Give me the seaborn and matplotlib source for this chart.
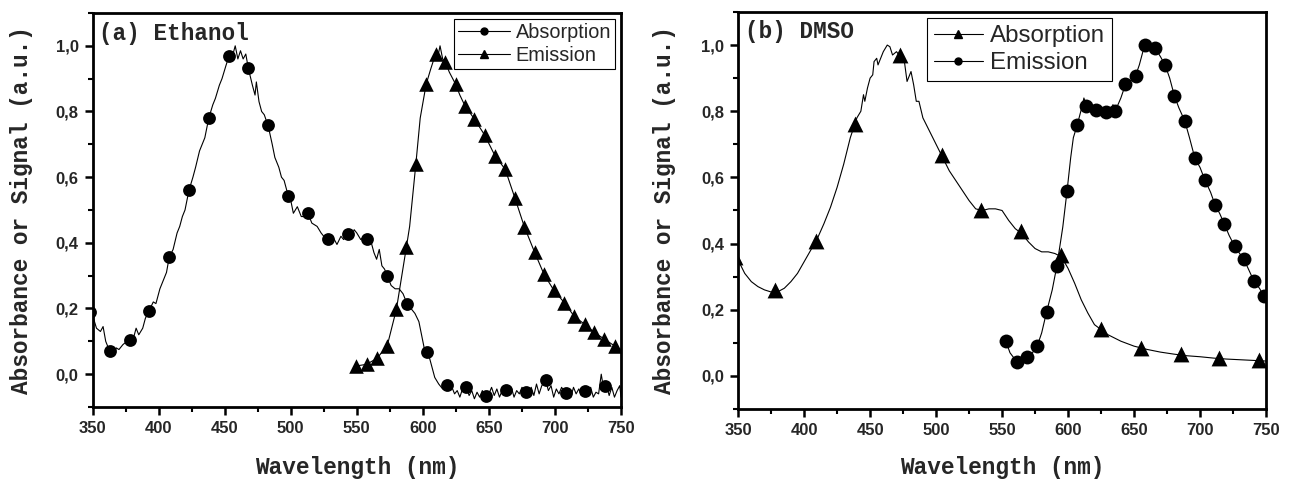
import matplotlib
matplotlib.use('Agg')
import matplotlib.pyplot as plt
from matplotlib.lines import Line2D
from matplotlib.ticker import MultipleLocator, FuncFormatter
import seaborn as sns

# ---- (a) Ethanol -------------------------------------------------------
abs_a_wl = [350, 353, 356, 358, 360, 363, 366, 368, 370, 373, 376, 378, 381, 383, 385, 388, 390,
            393, 396, 398, 401, 404, 406, 408, 411, 414, 416, 418, 420, 423, 426, 428, 431, 433,
            435, 438, 441, 443, 446, 448, 451, 453, 456, 458, 460, 462, 464, 466, 468, 471, 473,
            474, 476, 478, 480, 483, 486, 488, 491, 493, 495, 498, 500, 502, 505, 508, 510, 513,
            516, 518, 520, 523, 525, 528, 530, 533, 535, 538, 540, 543, 546, 548, 550, 553, 556,
            558, 561, 563, 565, 567, 569, 571, 573, 576, 579, 582, 585, 588, 591, 594, 597, 599,
            601, 603, 605, 607, 609, 612, 615, 618, 620, 622, 624, 626, 628, 630, 633, 635, 637,
            639, 641, 643, 645, 648, 650, 652, 654, 656, 658, 660, 663, 665, 667, 669, 671, 673,
            675, 678, 680, 682, 684, 686, 688, 690, 693, 695, 697, 699, 701, 703, 705, 708, 710,
            712, 714, 716, 718, 720, 723, 725, 727, 729, 731, 733, 735, 737, 739, 741, 743, 745,
            747, 749, 750]
abs_a = [0.18, 0.14, 0.13, 0.145, 0.10, 0.07, 0.06, 0.08, 0.075, 0.09, 0.10, 0.105, 0.11, 0.14,
         0.12, 0.14, 0.17, 0.195, 0.22, 0.215, 0.26, 0.29, 0.31, 0.355, 0.38, 0.43, 0.45, 0.48,
         0.50, 0.56, 0.60, 0.63, 0.68, 0.70, 0.72, 0.78, 0.82, 0.84, 0.88, 0.90, 0.94, 0.965,
         0.97, 1.0, 0.96, 0.985, 0.96, 0.975, 0.93, 0.88, 0.85, 0.89, 0.83, 0.80, 0.79, 0.755,
         0.70, 0.66, 0.63, 0.60, 0.59, 0.545, 0.53, 0.49, 0.51, 0.48, 0.48, 0.49, 0.46, 0.455,
         0.45, 0.43, 0.42, 0.41, 0.40, 0.41, 0.395, 0.42, 0.41, 0.425, 0.415, 0.44, 0.43, 0.41,
         0.42, 0.41, 0.40, 0.37, 0.35, 0.38, 0.33, 0.32, 0.30, 0.27, 0.26, 0.26, 0.245, 0.215,
         0.20, 0.185, 0.16, 0.12, 0.08, 0.07, 0.05, 0.02, -0.01, -0.03, -0.045, -0.035, -0.05,
         -0.04, -0.06, -0.05, -0.07, -0.045, -0.04, -0.065, -0.05, -0.075, -0.055, -0.07, -0.05,
         -0.07, -0.06, -0.04, -0.065, -0.045, -0.07, -0.05, -0.045, -0.065, -0.04, -0.07, -0.05,
         -0.06, -0.04, -0.055, -0.07, -0.04, -0.065, -0.03, -0.06, -0.035, -0.02, -0.05, -0.035,
         -0.07, -0.045, -0.06, -0.04, -0.06, -0.05, -0.07, -0.04, -0.06, -0.045, -0.065, -0.05,
         -0.06, -0.04, -0.07, -0.055, -0.06, 0.0, -0.05, -0.035, -0.065, -0.04, -0.07, -0.05,
         -0.035, -0.07]
abs_a_mk_wl = [348, 363, 378, 393, 408, 423, 438, 453, 468, 483, 498, 513, 528, 543, 558, 573,
               588, 603, 618, 633, 648, 663, 678, 693, 708, 723, 738]
abs_a_mk = [0.19, 0.071, 0.105, 0.193, 0.358, 0.56, 0.78, 0.97, 0.931, 0.758, 0.543, 0.492,
            0.411, 0.426, 0.413, 0.299, 0.215, 0.068, -0.034, -0.038, -0.068, -0.048, -0.053,
            -0.018, -0.056, -0.051, -0.036]

em_a_wl = [549.7, 557.4, 565.2, 573, 580, 587.5, 590, 594.7, 598, 602.5, 606, 609.6, 611,
           613, 615, 617, 620, 624.8, 628, 631.9, 639, 646.8, 654.6, 662.3, 669.7, 676.8,
           684.6, 691.7, 699.2, 707, 714.6, 722.4, 729.8, 737.3, 745.1, 750]
em_a = [0.025, 0.030, 0.048, 0.086, 0.198, 0.386, 0.45, 0.64, 0.78, 0.883, 0.93, 0.975, 0.96,
        1.0, 0.96, 0.951, 0.92, 0.883, 0.85, 0.817, 0.777, 0.728, 0.665, 0.624, 0.536, 0.449,
        0.371, 0.304, 0.255, 0.218, 0.176, 0.152, 0.127, 0.107, 0.086, 0.075]
em_a_mk_wl = [549.7, 557.4, 565.2, 573, 580, 587.5, 594.7, 602.5, 609.6, 617, 624.8, 631.9,
              639, 646.8, 654.6, 662.3, 669.7, 676.8, 684.6, 691.7, 699.2, 707, 714.6, 722.4,
              729.8, 737.3, 745.1]
em_a_mk = [0.025, 0.030, 0.048, 0.086, 0.198, 0.386, 0.64, 0.883, 0.975, 0.951, 0.883, 0.817,
           0.777, 0.728, 0.665, 0.624, 0.536, 0.449, 0.371, 0.304, 0.255, 0.218, 0.176, 0.152,
           0.127, 0.107, 0.086]

# ---- (b) DMSO ----------------------------------------------------------
abs_b_wl = [350, 355, 360, 365, 370, 378, 385, 390, 395, 400, 405, 410, 415, 420, 425, 430,
            435, 440, 443, 445, 446, 448, 450, 452, 453, 455, 456, 458, 460, 463, 465, 467, 470,
            473, 476, 478, 481, 483, 485, 487, 490, 495, 500, 505, 510, 515, 520, 525, 530, 535,
            540, 545, 550, 555, 560, 565, 570, 575, 580, 585, 590, 595, 600, 605, 610, 615, 620,
            625, 630, 640, 650, 660, 670, 680, 690, 700, 710, 720, 730, 740, 750]
abs_b = [0.35, 0.31, 0.285, 0.27, 0.26, 0.25, 0.265, 0.285, 0.31, 0.345, 0.38, 0.415, 0.46,
         0.51, 0.57, 0.64, 0.72, 0.78, 0.80, 0.85, 0.83, 0.87, 0.90, 0.91, 0.95, 0.96, 0.94,
         0.96, 0.98, 1.0, 0.995, 0.97, 0.98, 0.965, 0.95, 0.89, 0.92, 0.88, 0.83, 0.83, 0.78,
         0.74, 0.70, 0.66, 0.62, 0.59, 0.56, 0.53, 0.505, 0.50, 0.505, 0.505, 0.50, 0.47, 0.445,
         0.43, 0.405, 0.385, 0.375, 0.375, 0.37, 0.36, 0.325, 0.28, 0.23, 0.19, 0.155, 0.14,
         0.125, 0.105, 0.09, 0.08, 0.072, 0.066, 0.061, 0.058, 0.054, 0.051, 0.049, 0.047, 0.045]
abs_b_mk_wl = [348, 377.9, 408.8, 438.2, 472.3, 504.8, 534.2, 564.2, 594.6, 624.6, 655, 685.3,
               714.7, 744.7]
abs_b_mk = [0.36, 0.259, 0.407, 0.761, 0.970, 0.668, 0.503, 0.437, 0.367, 0.141, 0.085, 0.065,
            0.055, 0.047]

em_b_wl = [552.8, 556, 561.1, 565, 568.9, 573, 576.6, 580, 583.7, 588, 591.5, 596, 599.2, 602,
           604, 607, 609, 611, 612, 613.8, 617, 620.9, 625, 628.6, 632, 634, 635.8, 640, 643.5,
           647, 651.2, 654, 656, 658, 660, 662, 664, 665.8, 670, 673.5, 677, 680.6, 684, 688.4,
           692, 696.1, 700, 703.6, 708, 711.3, 715, 718.4, 722, 726.2, 730, 733.3, 737, 740.7,
           745, 748.5]
em_b = [0.106, 0.07, 0.043, 0.05, 0.057, 0.07, 0.09, 0.13, 0.193, 0.26, 0.332, 0.45, 0.558,
        0.66, 0.72, 0.759, 0.79, 0.82, 0.84, 0.817, 0.81, 0.804, 0.795, 0.799, 0.79, 0.82, 0.801,
        0.84, 0.881, 0.89, 0.908, 0.94, 0.97, 1.0, 0.98, 0.995, 0.98, 0.992, 0.965, 0.94, 0.90,
        0.846, 0.81, 0.771, 0.72, 0.658, 0.63, 0.593, 0.555, 0.518, 0.49, 0.459, 0.425, 0.392,
        0.37, 0.352, 0.32, 0.288, 0.265, 0.241]
em_b_mk_wl = [552.8, 561.1, 568.9, 576.6, 583.7, 591.5, 599.2, 607, 613.8, 620.9, 628.6, 635.8,
              643.5, 651.2, 658, 665.8, 673.5, 680.6, 688.4, 696.1, 703.6, 711.3, 718.4, 726.2,
              733.3, 740.7, 748.5]
em_b_mk = [0.106, 0.043, 0.057, 0.090, 0.193, 0.332, 0.558, 0.759, 0.817, 0.804, 0.799, 0.801,
           0.881, 0.908, 1.0, 0.992, 0.94, 0.846, 0.771, 0.658, 0.593, 0.518, 0.459, 0.392,
           0.352, 0.288, 0.241]

sns.set_style("ticks")
plt.rcParams['font.family'] = ['Liberation Sans', 'DejaVu Sans']
mono = ['Liberation Mono', 'DejaVu Sans Mono']

fig = plt.figure(figsize=(12.92, 4.79), dpi=100)
ax_a = fig.add_axes([0.0716, 0.1503, 0.4091, 0.8226])
ax_b = fig.add_axes([0.5713, 0.1461, 0.4086, 0.8289])

comma = FuncFormatter(lambda v, p: ('%.1f' % v).replace('.', ','))


def style_axes(ax):
    ax.set_xlim(350, 750)
    ax.set_ylim(-0.1, 1.1)
    ax.xaxis.set_major_locator(MultipleLocator(50))
    ax.xaxis.set_minor_locator(MultipleLocator(25))
    ax.yaxis.set_major_locator(MultipleLocator(0.2))
    ax.yaxis.set_minor_locator(MultipleLocator(0.1))
    ax.yaxis.set_major_formatter(comma)
    for s in ax.spines.values():
        s.set_linewidth(2.0)
        s.set_color('black')
    ax.tick_params(which='major', direction='out', length=6, width=1.8, color='black',
                   labelsize=12, pad=4, top=False, right=False)
    ax.tick_params(which='minor', direction='out', length=3.5, width=1.5, color='black',
                   top=False, right=False)
    for lab in ax.get_xticklabels() + ax.get_yticklabels():
        lab.set_fontweight('bold')
    ax.set_xlabel('Wavelength (nm)', family=mono, fontweight='bold', fontsize=16.4)
    ax.set_ylabel('Absorbance or Signal (a.u.)', family=mono, fontweight='bold', fontsize=16.4)
    ax.xaxis.label.set_va('center')
    ax.yaxis.label.set_va('center')


# panel (a)
sns.lineplot(x=abs_a_wl, y=abs_a, color='black', lw=0.8, sort=False, ax=ax_a)
sns.lineplot(x=em_a_wl, y=em_a, color='black', lw=0.8, sort=False, ax=ax_a)
sns.scatterplot(x=abs_a_mk_wl, y=abs_a_mk, marker='o', s=85, color='black', linewidth=0,
                ax=ax_a, zorder=3)
sns.scatterplot(x=em_a_mk_wl, y=em_a_mk, marker='^', s=110, color='black', linewidth=0,
                ax=ax_a, zorder=3)
style_axes(ax_a)
ax_a.xaxis.set_label_coords(0.5, -0.153)
ax_a.yaxis.set_label_coords(-0.135, 0.5)
ax_a.text(0.013, 0.949, '(a) Ethanol', transform=ax_a.transAxes, family=mono,
          fontweight='bold', fontsize=16.3, va='center', ha='left')
h_a = [Line2D([], [], color='black', lw=0.8, marker='o', ms=5, label='Absorption'),
       Line2D([], [], color='black', lw=0.8, marker='^', ms=6, label='Emission')]
ax_a.legend(handles=h_a, loc='upper right', bbox_to_anchor=(615 / 1292, 1 - 19 / 479),
            bbox_transform=fig.transFigure, borderaxespad=0, fontsize=14.3, fancybox=False,
            edgecolor='black', framealpha=1, borderpad=0.2, labelspacing=0.2,
            handlelength=2.6, handletextpad=0.3)
ax_a.get_legend().get_frame().set_linewidth(0.8)

# panel (b)
sns.lineplot(x=abs_b_wl, y=abs_b, color='black', lw=0.8, sort=False, ax=ax_b)
sns.lineplot(x=em_b_wl, y=em_b, color='black', lw=0.8, sort=False, ax=ax_b)
sns.scatterplot(x=abs_b_mk_wl, y=abs_b_mk, marker='^', s=130, color='black', linewidth=0,
                ax=ax_b, zorder=3)
sns.scatterplot(x=em_b_mk_wl, y=em_b_mk, marker='o', s=100, color='black', linewidth=0,
                ax=ax_b, zorder=3)
style_axes(ax_b)
ax_b.xaxis.set_label_coords(0.5, -0.148)
ax_b.yaxis.set_label_coords(-0.14, 0.5)
ax_b.text(0.013, 0.95, '(b) DMSO', transform=ax_b.transAxes, family=mono,
          fontweight='bold', fontsize=16.3, va='center', ha='left')
h_b = [Line2D([], [], color='black', lw=0.8, marker='^', ms=6, label='Absorption'),
       Line2D([], [], color='black', lw=0.8, marker='o', ms=5, label='Emission')]
ax_b.legend(handles=h_b, loc='upper left', bbox_to_anchor=(927 / 1292, 1 - 18 / 479),
            bbox_transform=fig.transFigure, borderaxespad=0, fontsize=17.4, fancybox=False,
            edgecolor='black', framealpha=1, borderpad=0.3, labelspacing=0.2,
            handlelength=2.0, handletextpad=0.3)
ax_b.get_legend().get_frame().set_linewidth(0.8)

fig.savefig('out.png', dpi=100)
